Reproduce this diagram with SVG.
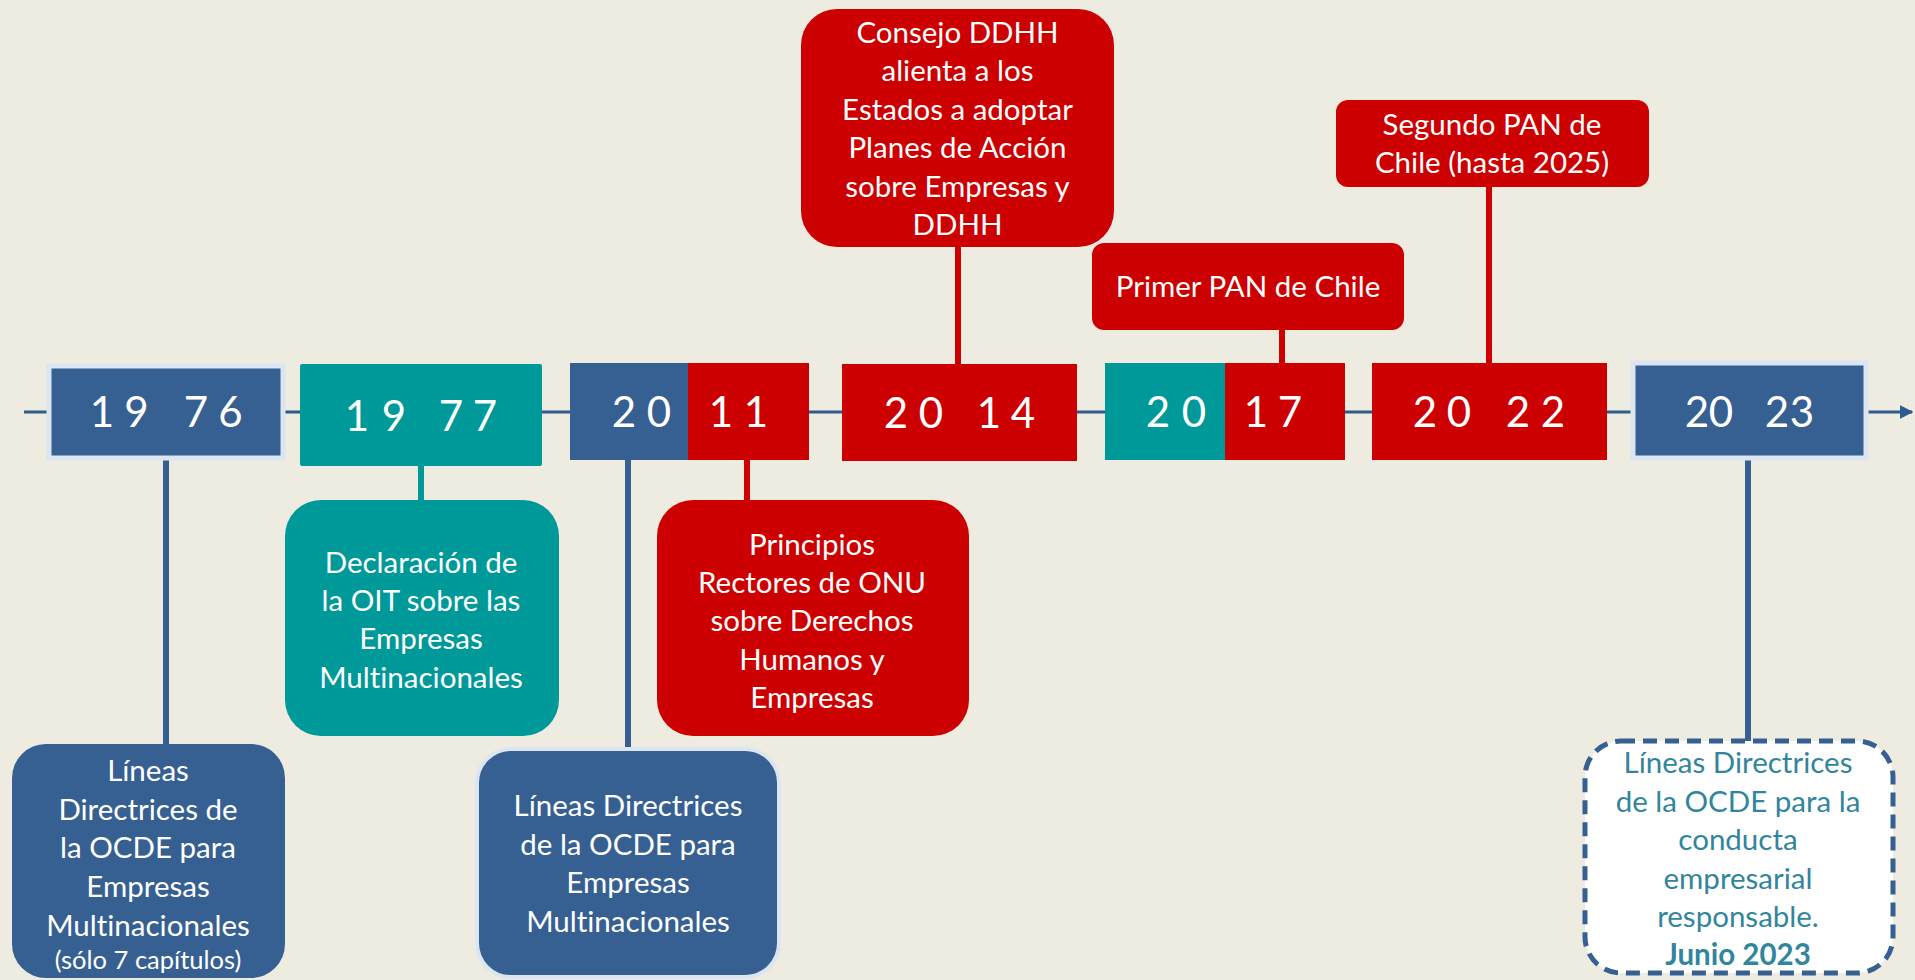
<svg xmlns="http://www.w3.org/2000/svg" width="1915" height="980" viewBox="0 0 1915 980">
<defs>
<marker id="arr" viewBox="0 0 10 10" refX="9" refY="5" markerWidth="4.5" markerHeight="4.5" orient="auto" markerUnits="strokeWidth">
<path d="M0,0 L10,5 L0,10 z" fill="#2f5a8c"/>
</marker>
<style>
.yr{font-family:Lato,"Liberation Sans",sans-serif;font-size:42px;fill:#fff;text-anchor:middle}
.tx{font-family:Lato,"Liberation Sans",sans-serif;font-size:29.5px;fill:#fff;text-anchor:middle;font-variant-ligatures:none}
.blue{fill:#376092}
.teal{fill:#009999}
.red{fill:#cc0000}
.cb{stroke:#376092;stroke-width:6}
.ct{stroke:#009999;stroke-width:6}
.cr{stroke:#cc0000;stroke-width:6}
.aq{fill:#31859c}
</style>
</defs>
<rect width="1915" height="980" fill="#eeebe0"/>
<g id="connectors" fill="none">
<line x1="24" y1="412" x2="1912" y2="412" stroke="#2f5a8c" stroke-width="3" marker-end="url(#arr)"/>
<line class="cb" x1="166" y1="458" x2="166" y2="746"/>
<line class="ct" x1="421" y1="465" x2="421" y2="501"/>
<line class="cb" x1="628" y1="458" x2="628" y2="749"/>
<line class="cr" x1="747" y1="458" x2="747" y2="501"/>
<line class="cr" x1="958" y1="245" x2="958" y2="365"/>
<line class="cr" x1="1282" y1="328" x2="1282" y2="364"/>
<line class="cr" x1="1489" y1="185" x2="1489" y2="364"/>
<line class="cb" x1="1748" y1="458" x2="1748" y2="741"/>
</g>
<g id="y1976">
<rect x="49" y="366" width="234" height="92" class="blue" stroke="#dce6f2" stroke-width="5"/>
<text class="yr" x="102 136.5 196 230.5" y="427">1976</text>
</g>
<g id="y1977">
<rect x="300" y="364" width="242" height="102" rx="2" class="teal"/>
<text class="yr" x="357 394 451 485" y="431">1977</text>
</g>
<g id="y2011">
<rect x="570" y="363" width="118" height="97" class="blue"/>
<rect x="688" y="363" width="121" height="97" class="red"/>
<text class="yr" x="624 659 721 756" y="427">2011</text>
</g>
<g id="y2014">
<rect x="842" y="364" width="235" height="97" class="red"/>
<text class="yr" x="896 931 989 1023" y="428">2014</text>
</g>
<g id="y2017">
<rect x="1105" y="363" width="120" height="97" class="teal"/>
<rect x="1225" y="363" width="120" height="97" class="red"/>
<text class="yr" x="1158 1194 1256 1290" y="427">2017</text>
</g>
<g id="y2022">
<rect x="1372" y="363" width="235" height="97" class="red"/>
<text class="yr" x="1425 1459 1518 1553" y="427">2022</text>
</g>
<g id="y2023">
<rect x="1633" y="363" width="233" height="95" class="blue" stroke="#dce6f2" stroke-width="5"/>
<text class="yr" x="1697 1721 1777 1802" y="427">2023</text>
</g>
<g id="n-ocde1976">
<rect x="12" y="744" width="273" height="234" rx="34" class="blue"/>
<text class="tx" x="148" y="781">Líneas</text>
<text class="tx" x="148" y="819.5">Directrices de</text>
<text class="tx" x="148" y="858">la OCDE para</text>
<text class="tx" x="148" y="897">Empresas</text>
<text class="tx" x="148" y="935.5">Multinacionales</text>
<text class="tx" x="148" y="969" style="font-size:25.5px">(sólo 7 capítulos)</text>
</g>
<g id="n-oit">
<rect x="285" y="500" width="274" height="236" rx="36" class="teal"/>
<text class="tx" x="421" y="573">Declaración de</text>
<text class="tx" x="421" y="611">la OIT sobre las</text>
<text class="tx" x="421" y="649">Empresas</text>
<text class="tx" x="421" y="688">Multinacionales</text>
</g>
<g id="n-ocde2011">
<rect x="477" y="749" width="302" height="228" rx="34" class="blue" stroke="#dce6f2" stroke-width="4"/>
<text class="tx" x="628" y="816">Líneas Directrices</text>
<text class="tx" x="628" y="855">de la OCDE para</text>
<text class="tx" x="628" y="893">Empresas</text>
<text class="tx" x="628" y="932">Multinacionales</text>
</g>
<g id="n-onu">
<rect x="657" y="500" width="312" height="236" rx="36" class="red"/>
<text class="tx" x="812" y="555">Principios</text>
<text class="tx" x="812" y="593">Rectores de ONU</text>
<text class="tx" x="812" y="631">sobre Derechos</text>
<text class="tx" x="812" y="670">Humanos y</text>
<text class="tx" x="812" y="708">Empresas</text>
</g>
<g id="n-consejo">
<rect x="801" y="9" width="313" height="238" rx="36" class="red"/>
<text class="tx" x="957.5" y="43">Consejo DDHH</text>
<text class="tx" x="957.5" y="81">alienta a los</text>
<text class="tx" x="957.5" y="120">Estados a adoptar</text>
<text class="tx" x="957.5" y="158">Planes de Acción</text>
<text class="tx" x="957.5" y="197">sobre Empresas y</text>
<text class="tx" x="957.5" y="235">DDHH</text>
</g>
<g id="n-pan1">
<rect x="1092" y="243" width="312" height="87" rx="12" class="red"/>
<text class="tx" x="1248" y="297">Primer PAN de Chile</text>
</g>
<g id="n-pan2">
<rect x="1336" y="100" width="313" height="87" rx="12" class="red"/>
<text class="tx" x="1492" y="135">Segundo PAN de</text>
<text class="tx" x="1492" y="173">Chile (hasta 2025)</text>
</g>
<g id="n-ocde2023">
<rect x="1585" y="741" width="308" height="232" rx="36" fill="#ffffff" stroke="#376092" stroke-width="5" stroke-dasharray="14 8"/>
<text class="tx aq" x="1738" y="773">Líneas Directrices</text>
<text class="tx aq" x="1738" y="812">de la OCDE para la</text>
<text class="tx aq" x="1738" y="850">conducta</text>
<text class="tx aq" x="1738" y="889">empresarial</text>
<text class="tx aq" x="1738" y="927">responsable.</text>
<text class="tx aq" x="1738" y="965" style="font-weight:bold">Junio 2023</text>
</g>
</svg>
